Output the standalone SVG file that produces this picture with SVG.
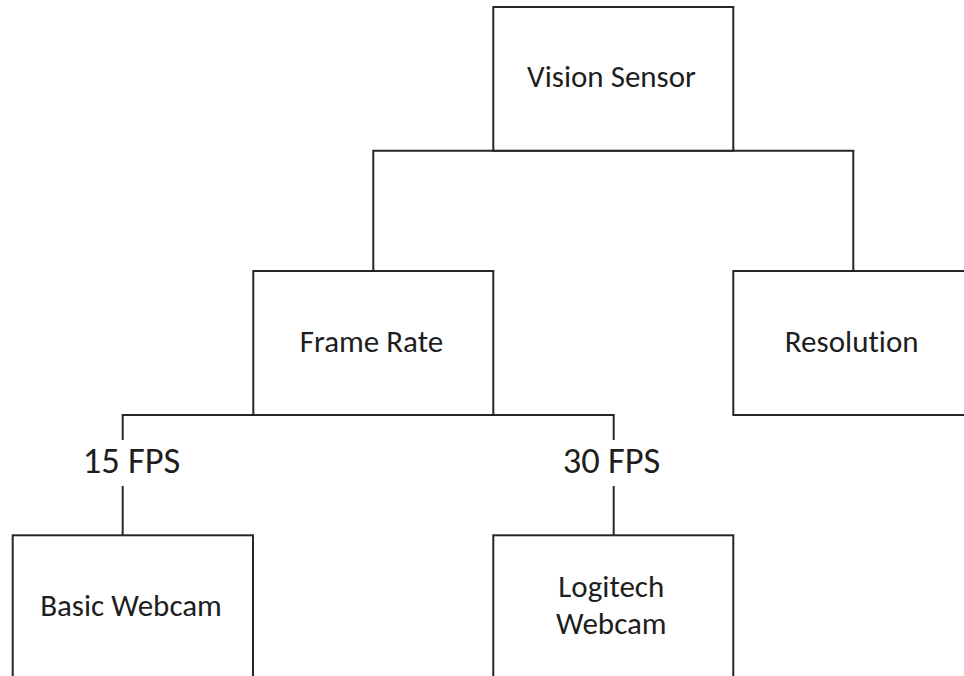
<svg xmlns="http://www.w3.org/2000/svg" width="964" height="676" viewBox="0 0 964 676">
  <style>
    .box { fill: #ffffff; stroke: #262626; stroke-width: 2; }
    .link { fill: none; stroke: #262626; stroke-width: 2; }
    .label { font-family: Carlito, Lato, "Open Sans", sans-serif; font-size: 31px; fill: #1e1e1e; text-anchor: middle; font-variant-ligatures: none; }
    .edge-label { font-family: Carlito, Lato, "Open Sans", sans-serif; font-size: 36.5px; fill: #1e1e1e; text-anchor: middle; font-variant-ligatures: none; }
  </style>
  <rect width="964" height="676" fill="#ffffff"/>

  <!-- tree connectors -->
  <g id="connectors">
    <!-- Vision Sensor to its two children -->
    <polyline class="link" points="373.3,271 373.3,150.7 853.3,150.7 853.3,271"/>
    <!-- Frame Rate to its two options -->
    <polyline class="link" points="122.7,440 122.7,415 613.7,415 613.7,440"/>
    <line class="link" x1="122.7" y1="486" x2="122.7" y2="535.3"/>
    <line class="link" x1="613.7" y1="486" x2="613.7" y2="535.3"/>
    <text class="edge-label" x="131.5" y="473">15 FPS</text>
    <text class="edge-label" x="611.5" y="473">30 FPS</text>
  </g>

  <g id="vision-sensor">
    <rect class="box" x="493.3" y="7" width="240" height="143.7"/>
    <text class="label" x="611.5" y="87">Vision Sensor</text>
  </g>

  <g id="frame-rate">
    <rect class="box" x="253.3" y="271" width="240" height="144"/>
    <text class="label" x="371.5" y="351.5">Frame Rate</text>
  </g>

  <g id="resolution">
    <rect class="box" x="733.3" y="271" width="240" height="144"/>
    <text class="label" x="851.7" y="351.5">Resolution</text>
  </g>

  <g id="basic-webcam">
    <rect class="box" x="12.7" y="535.3" width="240.3" height="160"/>
    <text class="label" x="131" y="616">Basic Webcam</text>
  </g>

  <g id="logitech-webcam">
    <rect class="box" x="493.3" y="535.3" width="240" height="160"/>
    <text class="label" x="611.3" y="597">Logitech</text>
    <text class="label" x="611.3" y="634">Webcam</text>
  </g>
</svg>
